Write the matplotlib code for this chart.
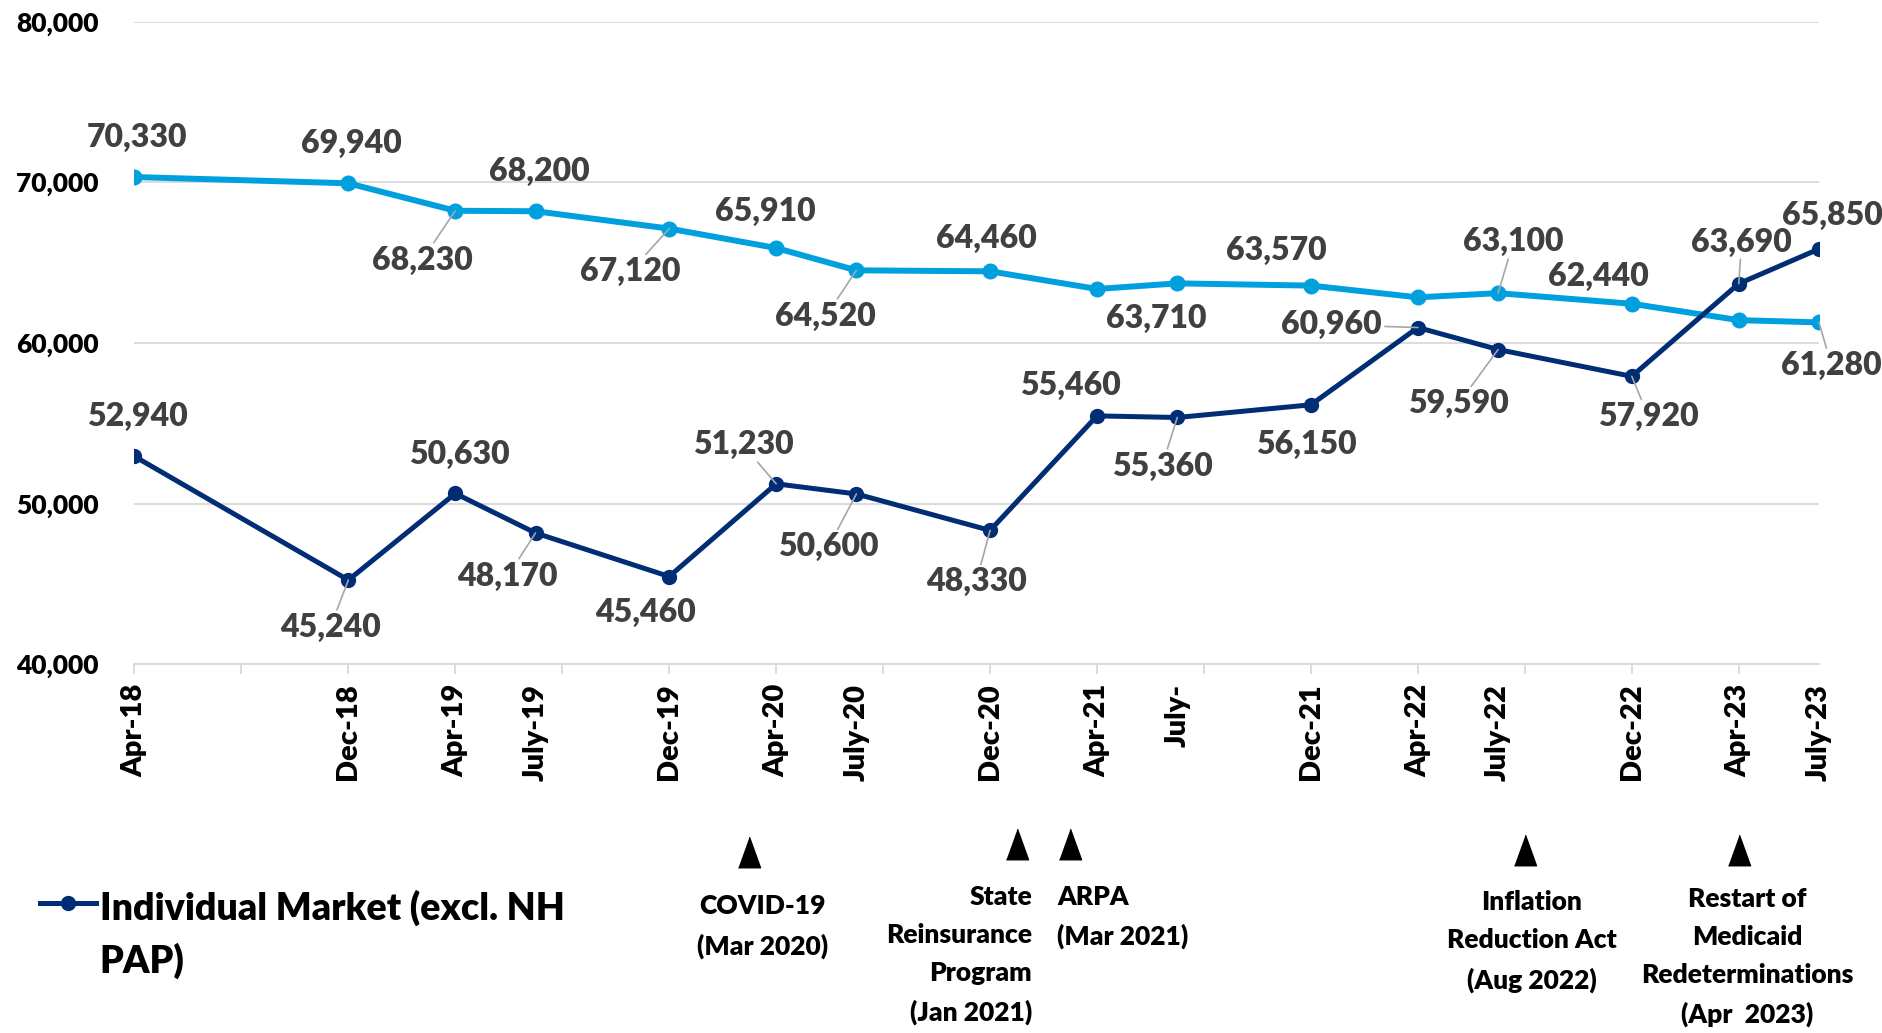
"""Individual market enrollment, Apr-18 to July-23"""
import matplotlib.pyplot as plt
import matplotlib.ticker as mticker
import numpy as np
import pandas as pd

plt.rcParams['font.family'] = ['Lato', 'DejaVu Sans']

# data
dates = ['2018-04', '2018-12', '2019-04', '2019-07', '2019-12', '2020-04', '2020-07', '2020-12',
         '2021-04', '2021-07', '2021-12', '2022-04', '2022-07', '2022-12', '2023-04', '2023-07']
tick_labels = ['Apr-18', 'Dec-18', 'Apr-19', 'July-19', 'Dec-19', 'Apr-20', 'July-20', 'Dec-20',
               'Apr-21', 'July-', 'Dec-21', 'Apr-22', 'July-22', 'Dec-22', 'Apr-23', 'July-23']
total_market = [70330, 69940, 68230, 68200, 67120, 65910, 64520, 64460,
                63360, 63710, 63570, 62840, 63100, 62440, 61420, 61280]
individual_market = [52940, 45240, 50630, 48170, 45460, 51230, 50600, 48330,
                     55460, 55360, 56150, 60960, 59590, 57920, 63690, 65850]

event_dates = ['2020-03', '2021-01', '2021-03', '2022-08', '2023-04']
event_labels = ['COVID-19\n(Mar 2020)',
                'State\nReinsurance\nProgram\n(Jan 2021)',
                'ARPA\n(Mar 2021)',
                'Inflation\nReduction Act\n(Aug 2022)',
                'Restart of\nMedicaid\nRedeterminations\n(Apr  2023)']


def month_index(date_list, start):
    d = pd.to_datetime(date_list)
    s = pd.to_datetime(start)
    return np.array((d.year - s.year) * 12 + (d.month - s.month))


x = month_index(dates, dates[0])
event_x = month_index(event_dates, dates[0])

# label placement (offset points) and whether a leader line is drawn; None = no label
total_offsets = [(2, 28.5), (2, 28.5), (-24, -35.5), (3, 28.5), (-28, -31), (-8, 26), (-22, -33), (-3, 24),
                 None, (-15, -25), (-25, 25), None, (11, 37), (-24, 20), None, (9, -31)]
total_leaders = [0, 0, 1, 0, 1, 0, 1, 0, 0, 0, 0, 0, 1, 0, 0, 1]
ind_offsets = [(2, 29), (-13, -34), (3, 28), (-20, -31), (-17, -26), (-24, 28), (-20, -38), (-10, -37),
               (-19, 22), (-11, -35), (-3, -28.5), (-62, 2), (-28.5, -39), (12, -29), (2, 30), (10, 24)]
ind_leaders = [0, 1, 0, 1, 0, 1, 1, 1, 0, 1, 0, 1, 1, 1, 1, 0]

LIGHT = '#00A0DF'
DARK = '#002D74'
GRID = '#D9D9D9'

fig, ax = plt.subplots(figsize=(18.83, 10.33), dpi=100)
fig.subplots_adjust(left=0.0714, right=0.966, bottom=0.357, top=0.979)

ax.plot(x, total_market, color=LIGHT, lw=4.3, marker='o', ms=10.5, zorder=3)
line_ind, = ax.plot(x, individual_market, color=DARK, lw=3.6, marker='o', ms=10, zorder=4,
                    label='Individual Market (excl. NH\nPAP)')

# axes styling
ax.set_xlim(0, 63)
ax.set_ylim(40000, 80000)
ax.set_yticks(range(40000, 80001, 10000))
ax.yaxis.set_major_formatter(mticker.StrMethodFormatter('{x:,.0f}'))
ax.grid(axis='y', color=GRID, lw=1.3)
ax.set_axisbelow(True)
for side in ['top', 'right', 'left']:
    ax.spines[side].set_visible(False)
ax.spines['bottom'].set_color(GRID)
ax.spines['bottom'].set_linewidth(1.3)
ax.tick_params(axis='y', length=0, pad=26, labelsize=19, labelcolor='black')
for lab in ax.get_yticklabels():
    lab.set_fontweight('heavy')

ax.set_xticks(x)
ax.set_xticklabels(tick_labels, rotation=90, fontsize=21, fontweight='heavy')
ax.tick_params(axis='x', which='major', length=0, pad=14)
ax.xaxis.remove_overlapping_locs = False
ax.set_xticks(np.arange(0, 61, 4), minor=True)
ax.tick_params(axis='x', which='minor', length=7, width=1.3, color=GRID)

# data labels
def add_labels(values, offsets, leaders):
    for xi, yi, off, lead in zip(x, values, offsets, leaders):
        if off is None:
            continue
        arrow = dict(arrowstyle='-', color='#A6A6A6', lw=1.2, shrinkA=0, shrinkB=0) if lead else None
        ax.annotate(f'{yi:,}', xy=(xi, yi), xytext=off, textcoords='offset points',
                    ha='center', va='center', fontsize=23, fontweight='heavy', color='#404040',
                    arrowprops=arrow, annotation_clip=False, zorder=5)


add_labels(total_market, total_offsets, total_leaders)
add_labels(individual_market, ind_offsets, ind_leaders)

# policy event markers under the axis
trx = ax.get_xaxis_transform()
tri = [(-0.36, -0.5), (0.36, -0.5), (0, 0.5)]
marker_y = [-0.2925, -0.28, -0.28, -0.289, -0.289]
for ex, ey in zip(event_x, marker_y):
    ax.plot([ex], [ey], ls='none', marker=tri, ms=22, color='black', transform=trx, clip_on=False)

text_y = [-0.358, -0.343, -0.343, -0.352, -0.346]
text_ha = ['center', 'right', 'left', 'center', 'center']
text_dx = [9.5, 11, -9.5, 5, 6]
for ex, ty, lab, ha, dx in zip(event_x, text_y, event_labels, text_ha, text_dx):
    ax.annotate(lab, xy=(ex, ty), xycoords=trx, xytext=(dx, 0), textcoords='offset points',
                ha=ha, va='top', fontsize=19, fontweight='heavy', linespacing=1.7,
                multialignment=ha, annotation_clip=False)

leg = ax.legend(handles=[line_ind], loc='upper left', bbox_to_anchor=(0.021, 0.139),
                bbox_transform=fig.transFigure, frameon=False, handlelength=1.5, handletextpad=0.1,
                borderpad=0, borderaxespad=0, prop=dict(weight='heavy', size=27))
leg.get_texts()[0].set_linespacing(1.55)
# keep the legend key level with the first line of its label
for col in leg._legend_handle_box.get_children():
    for item in col.get_children():
        item.align = 'top'

fig.savefig('out.png', dpi=100)
